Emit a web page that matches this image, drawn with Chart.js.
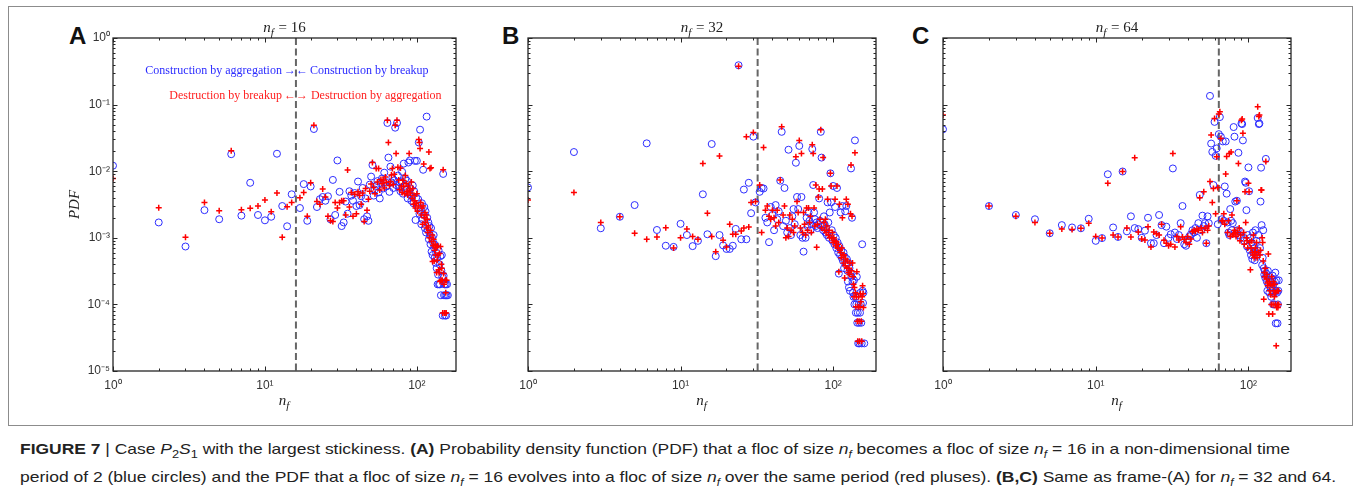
<!DOCTYPE html>
<html><head><meta charset="utf-8">
<script src="https://cdn.jsdelivr.net/npm/chart.js@4.4.1/dist/chart.umd.min.js"></script>
<style>
html,body{margin:0;padding:0;background:#fff;}
body{width:1354px;height:494px;overflow:hidden;position:relative;}
#frame{position:absolute;left:8px;top:6px;width:1345px;height:420px;border:1px solid #8c8c8c;box-sizing:border-box;}
canvas{position:absolute;top:0;}
.letter{position:absolute;font-family:'Liberation Sans',Arial,sans-serif;font-weight:bold;font-size:24px;color:#111;line-height:1;}
.cap{position:absolute;left:20px;font-family:'Liberation Sans',Arial,sans-serif;font-size:15px;color:#222;white-space:nowrap;transform-origin:0 50%;line-height:1;}
.cap b{font-weight:bold;}
.cap i{font-style:italic;}
</style></head><body>
<div id="frame"></div>
<div class="letter" style="left:69px;top:24px">A</div>
<div class="letter" style="left:502px;top:24px">B</div>
<div class="letter" style="left:912px;top:24px">C</div>
<canvas id="cA" width="471" height="425" style="left:0px"></canvas>
<canvas id="cB" width="476" height="425" style="left:415px"></canvas>
<canvas id="cC" width="476" height="425" style="left:830px"></canvas>
<div class="cap" id="cap1" style="top:441px"><b>FIGURE 7</b> | Case <i>P</i><sub style="font-size:11px">2</sub><i>S</i><sub style="font-size:11px">1</sub> with the largest stickiness. <b>(A)</b> Probability density function (PDF) that a floc of size <i>n<sub style="font-size:10px">f</sub></i> becomes a floc of size <i>n<sub style="font-size:10px">f</sub></i> = 16 in a non-dimensional time</div>
<div class="cap" id="cap2" style="top:469px">period of 2 (blue circles) and the PDF that a floc of size <i>n<sub style="font-size:10px">f</sub></i> = 16 evolves into a floc of size <i>n<sub style="font-size:10px">f</sub></i> over the same period (red pluses). <b>(B,C)</b> Same as frame-(A) for <i>n<sub style="font-size:10px">f</sub></i> = 32 and 64.</div>
<script>
// ---------- tick values / labels ----------
const xTickVals = [1, 10, 100];
const xTickLabels = ['10\u2070', '10\u00b9', '10\u00b2'];
const yTickVals = [1e-5, 1e-4, 1e-3, 1e-2, 1e-1, 1];
const yTickLabels = ['10\u207b\u2075', '10\u207b\u2074', '10\u207b\u00b3', '10\u207b\u00b2', '10\u207b\u00b9', '10\u2070'];
const refSizes = [16, 32, 64];
const xMaxes = [181, 191, 190];

// ---------- Panel A (n_f = 16) ----------
const A_con = [[1,0.0121],[2,1.7e-3],[3,7.4e-4],[4,2.6e-3],[5,1.9e-3],[6,0.018],[7,2.15e-3],[8,6.7e-3],[9,2.2e-3],[10,1.83e-3],[11,2.07e-3],[12,0.0183],[13,3.0e-3],[14,1.49e-3],[15,4.5e-3],
[17,2.8e-3],[18,6.4e-3],[19,1.8e-3],[20,5.9e-3],[21,0.043],[22,2.9e-3],[23,3.8e-3],[24,4.1e-3],[25,3.6e-3],[26,4.2e-3],[27,1.9e-3],[28,7.4e-3],[29,2.2e-3],[30,0.0145],[31,4.9e-3],[32,1.5e-3],[33,1.7e-3],[34,3.5e-3],[35,2.3e-3],[36,5.0e-3],[37,4.3e-3],[38,3.6e-3],[39,4.7e-3],[40,3.0e-3],[41,7.0e-3],[42,3.1e-3],[43,4.2e-3],[44,5.6e-3],[45,1.9e-3],[46,3.9e-3],[47,2.1e-3],[48,1.8e-3],[49,6.3e-3],[50,8.3e-3],[51,0.0124],[52,4.3e-3],[53,5.3e-3],[54,6.0e-3],[55,7.1e-3],[56,4.8e-3],[57,3.9e-3],[58,6.5e-3],[59,7.8e-3],[60,5.5e-3],[61,9.5e-3],[62,6.9e-3],[63,5.9e-3],[64,0.053],[65,0.016],[66,4.9e-3],[67,0.0117],[68,6.8e-3],[69,8.0e-3],[70,5.6e-3],[71,7.3e-3],[72,0.045],[73,6.2e-3],[74,0.053],[75,8.6e-3],[76,5.7e-3],[77,6.8e-3],[78,5.0e-3],[79,7.0e-3],[80,9.8e-3],[81,4.6e-3],[82,0.013],[83,6.0e-3],[84,7.7e-3],[85,5.2e-3],[86,7.2e-3],[87,3.9e-3],[88,0.0135],[89,4.6e-3],[90,0.0145],[91,5.5e-3],[92,3.6e-3],[93,4.2e-3],[94,6.1e-3],[95,3.3e-3],[96,5.0e-3],[97,0.0143],[98,1.85e-3],[99,4.0e-3],[100,0.0143],[101,2.9e-3],[102,3.8e-3],[103,0.027],[104,2.3e-3],[105,0.042],[106,2.6e-3],[107,1.6e-3],[108,3.3e-3],[109,1.9e-3],[110,0.0105],[111,2.2e-3],[112,2.9e-3],[113,1.4e-3],[114,2.5e-3],[115,1.2e-3],[116,0.066],[117,2.0e-3],[118,1.3e-3],[119,1.7e-3],[120,9.5e-4],[121,1.5e-3],[122,1.1e-3],[123,8.0e-4],[124,1.4e-3],[125,6.2e-4],[126,1.0e-3],[127,5.5e-4],[128,8.5e-4],[129,1.1e-3],[130,7.0e-4],[131,5.0e-4],[132,7.8e-4],[133,4.2e-4],[134,6.0e-4],[135,3.5e-4],[136,5.0e-4],[137,2.0e-4],[138,2.8e-4],[139,6.5e-4],[140,2.0e-4],[141,4.0e-4],[142,2.0e-4],[143,5.3e-4],[144,1.37e-4],[145,3.2e-4],[146,5.5e-4],[147,2.6e-4],[148,6.8e-5],[149,9.1e-3],[150,2.7e-4],[151,1.37e-4],[152,2.0e-4],[153,6.8e-5],[154,1.37e-4],[155,2.0e-4],[156,6.8e-5],[157,1.37e-4],[158,2.0e-4],[160,1.37e-4]];
const A_des = [[1,7.8e-3],[2,2.83e-3],[3,1.02e-3],[4,3.4e-3],[5,2.55e-3],[6,0.0203],[7,2.64e-3],[8,2.77e-3],[9,3.0e-3],[10,3.7e-3],[11,2.47e-3],[12,4.7e-3],[13,1.02e-3],[14,2.93e-3],[15,3.4e-3],
[17,4.0e-3],[18,4.8e-3],[19,2.1e-3],[20,6.7e-3],[21,0.049],[22,3.5e-3],[23,3.2e-3],[24,5.4e-3],[25,4.1e-3],[26,2.1e-3],[27,1.8e-3],[28,1.75e-3],[29,3.4e-3],[30,2.8e-3],[31,3.4e-3],[32,3.6e-3],[33,3.6e-3],[34,2.2e-3],[35,0.0104],[36,2.9e-3],[37,4.8e-3],[38,2.1e-3],[39,4.5e-3],[40,2.3e-3],[41,4.9e-3],[42,4.3e-3],[43,3.2e-3],[44,4.7e-3],[45,1.75e-3],[46,5.5e-3],[47,2.6e-3],[48,3.8e-3],[49,5.0e-3],[50,6.4e-3],[51,0.0135],[52,5.7e-3],[53,4.6e-3],[54,0.011],[55,6.9e-3],[56,0.011],[57,5.2e-3],[58,7.5e-3],[59,6.5e-3],[60,7.4e-3],[61,5.6e-3],[62,8.2e-3],[63,6.8e-3],[64,0.058],[65,0.027],[66,6.1e-3],[67,7.0e-3],[68,8.8e-3],[69,0.011],[70,6.3e-3],[71,9.0e-3],[72,0.049],[73,0.0185],[74,0.058],[75,0.0115],[76,7.4e-3],[77,5.3e-3],[78,0.0112],[79,6.0e-3],[80,4.8e-3],[81,7.3e-3],[82,5.9e-3],[83,4.6e-3],[84,8.6e-3],[85,6.6e-3],[86,5.0e-3],[87,4.4e-3],[88,6.0e-3],[89,0.0185],[90,5.2e-3],[91,4.7e-3],[92,6.9e-3],[93,3.9e-3],[94,5.5e-3],[95,3.2e-3],[96,4.3e-3],[97,3.6e-3],[98,2.8e-3],[99,3.3e-3],[100,4.6e-3],[101,2.5e-3],[102,3.0e-3],[103,0.030],[104,0.027],[105,0.022],[106,3.4e-3],[107,2.2e-3],[108,2.8e-3],[109,1.6e-3],[110,3.0e-3],[111,0.0128],[112,2.0e-3],[113,2.4e-3],[114,1.7e-3],[115,2.2e-3],[116,1.4e-3],[117,1.9e-3],[118,1.2e-3],[119,1.5e-3],[120,0.0195],[121,1.0e-3],[122,0.011],[123,1.3e-3],[124,0.0113],[125,8.8e-4],[126,1.1e-3],[127,4.4e-4],[128,7.6e-4],[129,9.5e-4],[130,4.5e-4],[131,6.5e-4],[132,8.0e-4],[133,5.5e-4],[134,7.2e-4],[135,3.0e-4],[136,4.6e-4],[137,7.5e-4],[138,5.5e-4],[139,3.3e-4],[140,3.0e-4],[141,5.8e-4],[142,2.2e-4],[143,7.4e-4],[144,2.3e-4],[145,4.0e-4],[146,3.5e-4],[147,2.3e-4],[148,7.4e-5],[149,0.0105],[150,2.9e-4],[151,2.0e-4],[152,7.4e-5],[153,7.4e-5],[154,2.3e-4],[155,1.5e-4],[156,7.4e-5],[157,2.3e-4]];

// ---------- Panel B (n_f = 32) ----------
const B_con = [[1,5.7e-3],[2,0.0194],[3,1.39e-3],[4,2.07e-3],[5,3.1e-3],[6,0.0262],[7,1.31e-3],[8,7.6e-4],[9,7.3e-4],[10,1.62e-3],[11,1.1e-3],[12,7.5e-4],[13,9.0e-4],[14,4.5e-3],[15,1.13e-3],[16,0.0256],[17,5.3e-4],[18,1.1e-3],[19,7.7e-4],[20,6.8e-4],[21,6.8e-4],[22,7.6e-4],[23,1.36e-3],[24,0.39],[25,9.5e-4],[26,5.3e-3],[27,9.5e-4],[28,6.7e-3],[29,2.34e-3],[30,0.033],[31,3.4e-3],
[33,4.9e-3],[34,5.6e-3],[35,5.5e-3],[36,2.0e-3],[37,1.7e-3],[38,8.6e-4],[39,2.9e-3],[40,2.2e-3],[41,1.3e-3],[42,3.1e-3],[43,1.9e-3],[44,2.5e-3],[45,7.2e-3],[46,0.039],[47,1.5e-3],[48,5.6e-3],[49,1.8e-3],[50,1.2e-3],[51,0.021],[52,1.4e-3],[53,1.1e-3],[54,2.1e-3],[55,2.7e-3],[56,1.6e-3],[57,0.0134],[58,4.1e-3],[59,2.7e-3],[60,0.024],[61,1.1e-3],[62,4.1e-3],[63,1.0e-3],[64,6.2e-4],[65,1.3e-3],[66,1.0e-3],[67,2.0e-3],[68,1.5e-3],[69,2.4e-3],[70,1.8e-3],[71,1.3e-3],[72,1.6e-3],[73,0.0215],[74,6.2e-3],[75,2.4e-3],[76,1.9e-3],[77,1.5e-3],[78,1.7e-3],[79,1.4e-3],[80,1.6e-3],[81,3.9e-3],[82,1.8e-3],[83,0.039],[84,0.016],[85,1.5e-3],[86,1.3e-3],[87,2.1e-3],[88,1.6e-3],[89,1.2e-3],[90,1.4e-3],[91,1.1e-3],[92,3.4e-3],[93,1.7e-3],[94,1.0e-3],[95,2.4e-3],[96,9.3e-3],[97,3.4e-3],[98,1.3e-3],[99,9.0e-4],[100,6.0e-3],[101,1.1e-3],[102,8.0e-4],[103,2.9e-3],[104,1.0e-3],[105,7.0e-4],[106,5.6e-3],[107,8.5e-4],[108,6.0e-4],[109,2.9e-4],[110,7.5e-4],[111,5.5e-4],[112,2.4e-3],[113,6.5e-4],[114,5.0e-4],[115,3.0e-3],[116,4.5e-4],[117,6.0e-4],[118,3.5e-4],[119,5.2e-4],[120,2.5e-3],[121,4.0e-4],[122,3.0e-3],[123,4.8e-4],[124,3.2e-4],[125,2.2e-4],[126,4.2e-4],[127,1.8e-4],[128,3.5e-4],[129,1.6e-4],[130,3.0e-4],[131,0.011],[132,2.6e-4],[133,2.0e-3],[134,2.2e-4],[135,1.5e-4],[136,1.3e-4],[137,2.3e-4],[138,1.0e-4],[139,0.029],[140,1.3e-4],[141,7.5e-5],[142,1.0e-4],[143,2.6e-4],[144,5.3e-5],[145,7.5e-5],[146,2.6e-5],[147,1.0e-4],[148,5.3e-5],[149,2.6e-5],[150,7.5e-5],[151,1.5e-4],[152,1.0e-4],[153,5.3e-5],[154,2.6e-5],[155,8.0e-4],[156,1.6e-4],[157,1.05e-4],[158,1.5e-4],[160,2.6e-5]];
const B_des = [[1,3.7e-3],[2,4.8e-3],[3,1.69e-3],[4,2.07e-3],[5,1.17e-3],[6,9.5e-4],[7,1.03e-3],[8,1.41e-3],[9,7.0e-4],[10,1.0e-3],[11,1.36e-3],[12,1.05e-3],[13,9.5e-4],[14,0.0131],[15,2.34e-3],[16,1.05e-3],[17,6.2e-4],[18,0.0169],[19,9.2e-4],[20,7.3e-4],[21,1.6e-3],[22,1.13e-3],[23,1.13e-3],[24,0.375],[25,1.27e-3],[26,1.4e-3],[27,0.033],[28,1.45e-3],[29,3.4e-3],[30,0.038],[31,3.5e-3],
[33,6.2e-3],[34,1.2e-3],[35,0.0226],[36,2.6e-3],[37,3.0e-3],[38,2.1e-3],[39,1.9e-3],[40,2.6e-3],[41,2.0e-3],[42,1.5e-3],[43,2.6e-3],[44,1.7e-3],[45,7.4e-3],[46,0.0465],[47,2.2e-3],[48,3.0e-3],[49,1.0e-3],[50,1.4e-3],[51,1.05e-3],[52,2.2e-3],[53,1.3e-3],[54,1.9e-3],[55,1.2e-3],[56,1.5e-3],[57,0.0165],[58,3.5e-3],[59,2.4e-3],[60,0.029],[61,1.4e-3],[62,0.0185],[63,1.2e-3],[64,2.4e-3],[65,1.6e-3],[66,1.1e-3],[67,2.8e-3],[68,1.3e-3],[69,2.8e-3],[70,1.7e-3],[71,2.1e-3],[72,1.2e-3],[73,0.025],[74,0.0185],[75,2.8e-3],[76,1.5e-3],[77,6.2e-3],[78,7.2e-4],[79,1.6e-3],[80,4.1e-3],[81,5.4e-3],[82,1.9e-3],[83,0.042],[84,1.4e-3],[85,5.4e-3],[86,0.016],[87,1.7e-3],[88,1.3e-3],[89,1.9e-3],[90,1.2e-3],[91,1.5e-3],[92,3.8e-3],[93,1.1e-3],[94,1.3e-3],[95,1.0e-3],[96,9.3e-3],[97,6.0e-3],[98,1.0e-3],[99,1.2e-3],[100,8.5e-4],[101,1.0e-3],[102,9.0e-4],[103,3.8e-3],[104,7.5e-4],[105,8.8e-4],[106,6.0e-3],[107,7.0e-4],[108,8.0e-4],[109,3.1e-4],[110,3.2e-3],[111,6.5e-4],[112,6.0e-4],[113,5.0e-4],[114,7.0e-4],[115,2.0e-3],[116,5.5e-4],[117,4.2e-4],[118,5.5e-4],[119,2.5e-4],[120,3.8e-4],[121,4.8e-4],[122,3.8e-3],[123,3.5e-4],[124,4.5e-4],[125,3.2e-3],[126,3.0e-4],[127,3.5e-4],[128,2.8e-4],[129,4.2e-4],[130,2.3e-3],[131,0.0124],[132,3.2e-4],[133,2.1e-3],[134,4.2e-4],[135,2.6e-4],[136,2.0e-4],[137,1.3e-4],[138,1.8e-4],[139,0.0189],[140,1.5e-4],[141,9.2e-5],[142,1.3e-4],[143,3.1e-4],[144,5.6e-5],[145,2.8e-5],[146,9.2e-5],[147,1.3e-4],[148,5.6e-5],[149,2.8e-5],[150,9.2e-5],[151,1.45e-4],[152,1.1e-4],[153,5.6e-5],[154,2.8e-5],[155,1.3e-4],[156,1.9e-4],[157,1.45e-4],[158,9.0e-5]];

// ---------- Panel C (n_f = 64) ----------
const C_con = [[1,0.0426],[2,3.0e-3],[3,2.2e-3],[4,1.9e-3],[5,1.17e-3],[6,1.55e-3],[7,1.43e-3],[8,1.39e-3],[9,1.93e-3],[10,9.0e-4],[11,9.9e-4],[12,9.0e-3],[13,1.43e-3],[14,1.03e-3],[15,9.9e-3],[16,1.25e-3],[17,2.1e-3],[18,1.4e-3],[19,1.35e-3],[20,1.0e-3],[21,1.28e-3],[22,2.0e-3],[23,8.3e-4],[24,8.3e-4],[25,1.1e-3],[26,2.2e-3],[27,1.55e-3],[28,8.3e-4],[29,1.47e-3],[30,1.0e-3],[31,1.13e-3],[32,0.011],[33,1.2e-3],[34,9.6e-4],[35,1.1e-3],[36,1.66e-3],[37,3.0e-3],[38,8.0e-4],[39,7.6e-4],[40,9.0e-4],[41,1.05e-3],[42,1.13e-3],[43,1.3e-3],[44,1.2e-3],[45,1.4e-3],[46,1.0e-3],[47,1.66e-3],[48,4.4e-3],[49,1.3e-3],[50,2.15e-3],[51,1.5e-3],[52,1.66e-3],[53,8.3e-4],[54,2.1e-3],[55,1.66e-3],[56,0.135],[57,0.026],[58,0.0195],[59,6.2e-3],[60,0.055],[61,0.017],[62,0.022],[63,1.6e-3],[64,0.036],[65,0.065],[66,0.033],[67,1.9e-3],[68,0.028],[69,1.8e-3],[70,5.9e-3],[71,0.028],[72,4.6e-3],[73,1.7e-3],[74,1.2e-3],[75,1.1e-3],[76,2.7e-3],[77,1.8e-3],[78,1.3e-3],[79,1.66e-3],[80,0.046],[81,0.033],[82,3.5e-3],[83,1.15e-3],[84,3.6e-3],[85,1.3e-3],[86,0.0189],[87,1.1e-3],[88,1.25e-3],[89,1.0e-3],[90,0.052],[91,0.051],[92,0.029],[93,1.0e-3],[94,9.0e-4],[95,7.0e-3],[96,6.7e-3],[97,2.6e-3],[98,7.4e-4],[99,1.1e-3],[100,0.0114],[101,5.0e-3],[102,6.5e-4],[103,1.0e-3],[104,5.5e-4],[105,8.5e-4],[106,4.8e-4],[107,1.2e-3],[108,6.0e-4],[109,7.0e-4],[110,4.6e-4],[111,1.3e-3],[112,5.5e-4],[113,9.0e-4],[114,6.5e-4],[115,0.063],[116,1.1e-3],[117,0.051],[118,0.052],[119,7.0e-4],[120,3.5e-3],[121,0.0113],[122,1.55e-3],[123,3.9e-4],[124,5.0e-4],[125,1.3e-3],[126,3.5e-4],[127,2.8e-4],[128,3.2e-4],[129,2.5e-4],[130,0.0153],[131,2.9e-4],[132,2.2e-4],[133,1.6e-4],[134,3.2e-4],[135,2.0e-4],[136,2.6e-4],[137,1.5e-4],[138,2.3e-4],[139,1.8e-4],[140,2.2e-4],[141,1.3e-4],[142,2.4e-4],[143,1.6e-4],[144,2.7e-4],[145,1.0e-4],[146,2.0e-4],[147,1.5e-4],[148,1.0e-4],[149,2.2e-4],[150,3.0e-4],[151,5.2e-5],[152,1.6e-4],[153,2.3e-4],[154,1.5e-4],[155,5.2e-5],[156,1.0e-4],[157,1.6e-4],[158,2.3e-4]];
const C_des = [[1,0.0698],[2,3.0e-3],[3,2.1e-3],[4,1.7e-3],[5,1.17e-3],[6,1.36e-3],[7,1.33e-3],[8,1.39e-3],[9,1.66e-3],[10,1.05e-3],[11,9.9e-4],[12,6.6e-3],[13,1.1e-3],[14,1.03e-3],[15,9.9e-3],[16,1.4e-3],[17,1.03e-3],[18,0.0159],[19,1.22e-3],[20,9.6e-4],[21,9.3e-4],[22,1.47e-3],[23,7.3e-4],[24,1.22e-3],[25,1.15e-3],[26,1.1e-3],[27,1.6e-3],[28,9.2e-4],[29,8.3e-4],[30,7.6e-4],[31,8.0e-4],[32,0.0185],[33,7.3e-4],[34,1.05e-3],[35,9.3e-4],[36,1.47e-3],[37,1.03e-3],[38,9.5e-4],[39,8.5e-4],[40,1.05e-3],[41,8.0e-4],[42,9.6e-4],[43,1.23e-3],[44,1.3e-3],[45,1.25e-3],[46,1.35e-3],[47,1.3e-3],[48,4.0e-3],[49,1.4e-3],[50,1.2e-3],[51,4.9e-3],[52,1.4e-3],[53,8.3e-4],[54,1.3e-3],[55,1.5e-3],[56,7.0e-3],[57,0.035],[58,3.4e-3],[59,5.5e-3],[60,0.062],[61,2.3e-3],[62,0.0165],[63,5.7e-3],[64,0.072],[65,0.078],[66,0.031],[67,1.8e-3],[68,1.8e-3],[69,2.3e-3],[70,1.6e-3],[71,9.1e-3],[72,0.0166],[73,1.2e-3],[74,1.8e-3],[75,0.0185],[76,1.05e-3],[77,0.0195],[78,2.2e-3],[79,1.1e-3],[80,1.15e-3],[81,1.3e-3],[82,1.2e-3],[83,1.05e-3],[84,3.6e-3],[85,1.2e-3],[86,0.013],[87,1.4e-3],[88,9.0e-4],[89,1.1e-3],[90,0.058],[91,0.061],[92,0.037],[93,1.2e-3],[94,8.0e-4],[95,4.9e-3],[96,1.7e-3],[97,1.0e-3],[98,9.0e-4],[99,7.0e-4],[100,6.6e-3],[101,4.9e-3],[102,8.5e-4],[103,3.3e-4],[104,7.0e-4],[105,9.0e-4],[106,6.0e-4],[107,5.5e-4],[108,1.1e-3],[109,5.0e-4],[110,6.2e-4],[111,7.0e-4],[112,5.5e-4],[113,8.5e-4],[114,5.0e-4],[115,0.093],[116,6.0e-4],[117,0.066],[118,0.070],[119,5.5e-4],[120,6.5e-4],[121,5.2e-3],[122,5.2e-3],[123,1.0e-3],[124,8.5e-4],[125,4.5e-4],[126,1.2e-4],[127,3.0e-4],[128,2.6e-4],[129,3.5e-4],[130,0.014],[131,2.4e-4],[132,2.8e-4],[133,2.1e-4],[134,1.9e-4],[135,5.7e-4],[136,7.2e-5],[137,2.2e-4],[138,1.6e-4],[139,2.0e-4],[140,1.4e-4],[141,1.0e-4],[142,2.6e-4],[143,1.9e-4],[144,7.2e-5],[145,1.0e-4],[146,2.2e-4],[147,1.6e-4],[148,1.3e-4],[149,2.0e-4],[150,1.0e-4],[151,1.5e-4],[152,2.4e-5],[153,9.0e-5],[154,1.6e-4],[155,1.0e-4],[156,9.0e-5],[157,1.6e-4],[158,1.0e-4]];

// ---------- drawing helpers ----------
const SERIF = "'Liberation Serif','DejaVu Serif',serif";
function drawNf(ctx, cx, baseY, tail, size) {
  const sub = Math.round(size * 0.72);
  ctx.save();
  ctx.fillStyle = '#222';
  ctx.textBaseline = 'alphabetic';
  ctx.textAlign = 'left';
  ctx.font = `italic ${size}px ${SERIF}`;
  const wn = ctx.measureText('n').width;
  ctx.font = `italic ${sub}px ${SERIF}`;
  const wf = ctx.measureText('f').width + 1;
  ctx.font = `${size}px ${SERIF}`;
  const wt = tail ? ctx.measureText(tail).width : 0;
  let x = cx - (wn + wf + wt) / 2;
  ctx.font = `italic ${size}px ${SERIF}`;
  ctx.fillText('n', x, baseY); x += wn;
  ctx.font = `italic ${sub}px ${SERIF}`;
  ctx.fillText('f', x, baseY + size * 0.28); x += wf;
  if (tail) { ctx.font = `${size}px ${SERIF}`; ctx.fillText(tail, x, baseY); }
  ctx.restore();
}

const decor = {
  id: 'decor',
  beforeDatasetsDraw(chart, args, o) {
    const { ctx, chartArea: a } = chart;
    const px = chart.scales.x.getPixelForValue(o.ref);
    ctx.save();
    ctx.strokeStyle = '#666';
    ctx.lineWidth = 2;
    ctx.setLineDash([7, 3.5]);
    ctx.beginPath(); ctx.moveTo(px, a.top); ctx.lineTo(px, a.bottom); ctx.stroke();
    ctx.restore();
  },
  afterDraw(chart, args, o) {
    const { ctx, chartArea: a } = chart;
    const xs = chart.scales.x, ys = chart.scales.y;
    ctx.save();
    ctx.strokeStyle = '#262626';
    ctx.lineWidth = 1.3;
    ctx.strokeRect(a.left, a.top, a.right - a.left, a.bottom - a.top);
    ctx.lineWidth = 1;
    ctx.beginPath();
    for (let k = 0; k <= 2; k++) for (let m = 1; m <= 9; m++) {
      const v = m * Math.pow(10, k);
      if (v < xs.min || v > xs.max) continue;
      const p = Math.round(xs.getPixelForValue(v)) + 0.5;
      const len = m === 1 ? 4.5 : 2.5;
      ctx.moveTo(p, a.bottom); ctx.lineTo(p, a.bottom - len);
      ctx.moveTo(p, a.top); ctx.lineTo(p, a.top + len);
    }
    for (let k = -5; k <= 0; k++) for (let m = 1; m <= 9; m++) {
      const v = m * Math.pow(10, k);
      if (v < ys.min || v > ys.max * 1.0001) continue;
      const p = Math.round(ys.getPixelForValue(v)) + 0.5;
      const len = m === 1 ? 4.5 : 2.5;
      ctx.moveTo(a.left, p); ctx.lineTo(a.left + len, p);
      ctx.moveTo(a.right, p); ctx.lineTo(a.right - len, p);
    }
    ctx.stroke();
    const cx = (a.left + a.right) / 2;
    drawNf(ctx, cx, 32, ' = ' + o.ref, 15);
    drawNf(ctx, cx, 405, '', 15);
    if (o.ylabel) {
      ctx.save();
      ctx.translate(75, (a.top + a.bottom) / 2);
      ctx.rotate(-Math.PI / 2);
      ctx.font = `italic 15px ${SERIF}`;
      ctx.fillStyle = '#222';
      ctx.textAlign = 'center'; ctx.textBaseline = 'middle';
      ctx.fillText('PDF', 0, 0);
      ctx.restore();
    }
    if (o.annot) {
      const px = xs.getPixelForValue(o.ref);
      ctx.font = `12px ${SERIF}`;
      ctx.textBaseline = 'alphabetic';
      ctx.fillStyle = '#2b2bff';
      ctx.textAlign = 'right';
      ctx.fillText('Construction by aggregation', px - 14, 74);
      ctx.fillText('\u2192', px, 74);
      ctx.textAlign = 'left';
      ctx.fillText('\u2190', px, 74);
      ctx.fillText('Construction by breakup', px + 14, 74);
      ctx.fillStyle = '#ff2020';
      ctx.textAlign = 'right';
      ctx.fillText('Destruction by breakup', px - 14, 99);
      ctx.fillText('\u2190', px, 99);
      ctx.textAlign = 'left';
      ctx.fillText('\u2192', px, 99);
      ctx.fillText('Destruction by aggregation', px + 15, 99);
    }
    ctx.restore();
  }
};

function makePanel(id, con, des, idx) {
  const toPts = arr => arr.map(p => ({ x: p[0], y: p[1] }));
  return new Chart(document.getElementById(id), {
    type: 'scatter',
    data: {
      datasets: [
        { label: 'destruction', data: toPts(des), pointStyle: 'cross', pointRadius: 3, pointBorderWidth: 1.5,
          borderColor: '#ff0000', backgroundColor: '#ff0000' },
        { label: 'construction', data: toPts(con), pointStyle: 'circle', pointRadius: 3.5, pointBorderWidth: 1,
          borderColor: 'rgb(45,45,255)', backgroundColor: 'rgba(0,0,0,0)' }
      ]
    },
    options: {
      responsive: false, animation: false, events: [],
      layout: { autoPadding: false, padding: { top: 38, right: 15, bottom: 0, left: 0 } },
      plugins: { legend: { display: false }, tooltip: { enabled: false }, title: { display: false },
        decor: { ref: refSizes[idx], ylabel: idx === 0, annot: idx === 0 } },
      scales: {
        x: {
          type: 'logarithmic', min: 1, max: xMaxes[idx],
          grid: { display: false, drawTicks: false }, border: { display: false },
          afterBuildTicks: s => { s.ticks = xTickVals.map(v => ({ value: v })); },
          afterFit: s => { s.height = 54; },
          ticks: { autoSkip: false, maxRotation: 0, minRotation: 0, padding: 7, color: '#333',
            font: { family: "'Liberation Sans', Arial, sans-serif", size: 12 },
            callback: (v, i) => xTickLabels[i] }
        },
        y: {
          type: 'logarithmic', min: 1e-5, max: 1,
          grid: { display: false, drawTicks: false }, border: { display: false },
          afterBuildTicks: s => { s.ticks = yTickVals.map(v => ({ value: v })); },
          afterFit: s => { s.width = 113; },
          ticks: { display: idx === 0, autoSkip: false, padding: 3, color: '#333',
            font: { family: "'Liberation Sans', Arial, sans-serif", size: 12 },
            callback: (v, i) => yTickLabels[i] }
        }
      }
    },
    plugins: [decor]
  });
}

makePanel('cA', A_con, A_des, 0);
makePanel('cB', B_con, B_des, 1);
makePanel('cC', C_con, C_des, 2);

[['cap1', 1270], ['cap2', 1316]].forEach(([id, w]) => {
  const el = document.getElementById(id);
  const cw = el.getBoundingClientRect().width;
  if (cw > 0) el.style.transform = `scaleX(${w / cw})`;
});
</script>
</body></html>
